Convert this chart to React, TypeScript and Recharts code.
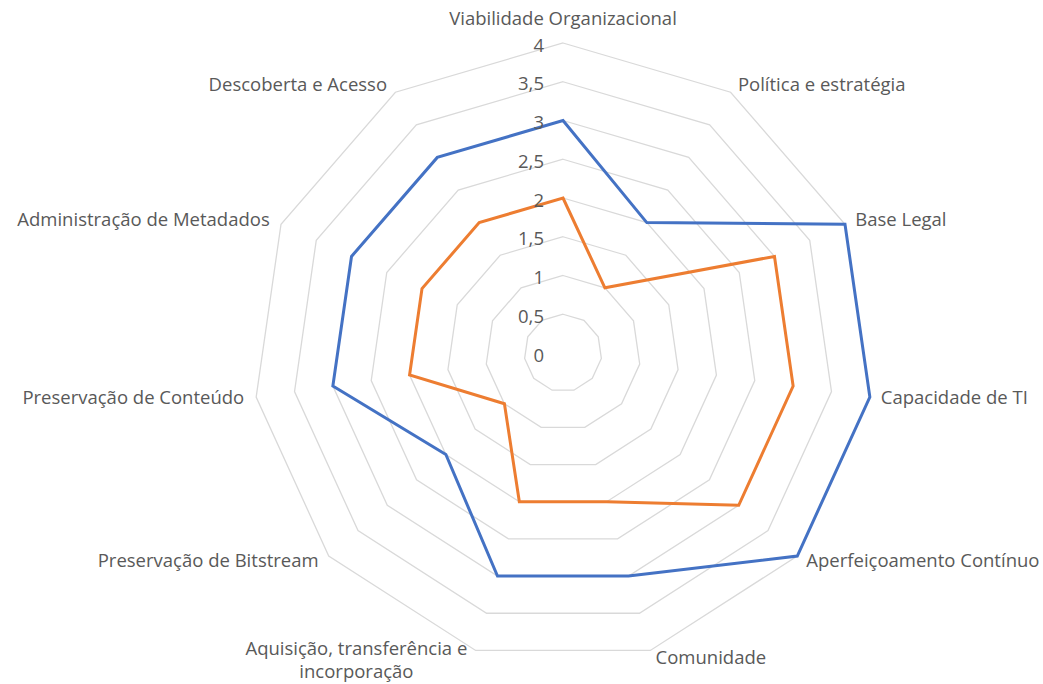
import React from 'react';
import { RadarChart, Radar, PolarGrid, PolarAngleAxis, PolarRadiusAxis } from 'recharts';

const categories = [
  'Viabilidade Organizacional',
  'Política e estratégia',
  'Base Legal',
  'Capacidade de TI',
  'Aperfeiçoamento Contínuo',
  'Comunidade',
  'Aquisição, transferência e\nincorporação',
  'Preservação de Bitstream',
  'Preservação de Conteúdo',
  'Administração de Metadados',
  'Descoberta e Acesso',
];
const serieAzul = [3, 2, 4, 4, 4, 3, 3, 2, 3, 3, 3];
const serieLaranja = [2, 1, 3, 3, 3, 2, 2, 1, 2, 2, 2];
const radiusTicks = [0, 0.5, 1, 1.5, 2, 2.5, 3, 3.5, 4];

const data = categories.map((c, i) => ({ name: c, azul: serieAzul[i], laranja: serieLaranja[i] }));

const FONT = '"Open Sans", "Noto Sans", sans-serif';
const TEXT = '#595959';
const FS = 18.5;

const AngleTick = (props: any) => {
  const { x, y, payload, textAnchor } = props;
  const lines = String(payload.value).split('\n');
  if (lines.length > 1) {
    return (
      <text x={x - 117} y={y} textAnchor="middle" fill={TEXT} fontSize={FS} fontFamily={FONT}>
        {lines.map((l, i) => (
          <tspan key={i} x={x - 117} y={y - 11 + i * 23} dominantBaseline="central">{l}</tspan>
        ))}
      </text>
    );
  }
  const dy = textAnchor === 'middle' ? -18 : -2;
  return (
    <text x={x + (textAnchor === 'start' ? 3 : textAnchor === 'end' ? -4 : 0)} y={y + dy}
      textAnchor={textAnchor} dominantBaseline="central" fill={TEXT} fontSize={FS} fontFamily={FONT}>
      {payload.value}
    </text>
  );
};

const RadiusTick = (props: any) => {
  const { x, y, payload } = props;
  return (
    <text x={x - 19} y={y + 1} textAnchor="end" dominantBaseline="central" fill={TEXT} fontSize={FS} fontFamily={FONT}>
      {String(payload.value).replace('.', ',')}
    </text>
  );
};

export default function App() {
  return (
    <div style={{ position: 'absolute', left: 0, top: 0, width: 1043, height: 684, background: '#fff' }}>
      <RadarChart width={1043} height={684} data={data} cx={563} cy={353} outerRadius={310}
        margin={{ top: 0, right: 0, bottom: 0, left: 0 }}>
        <PolarGrid radialLines={false} stroke="#d9d9d9" strokeWidth={1.3} />
        <PolarAngleAxis dataKey="name" tick={<AngleTick />} tickLine={false} axisLine={false} />
        <PolarRadiusAxis angle={90} domain={[0, 4]} ticks={radiusTicks} tickCount={9} type="number"
          axisLine={false} tickLine={false} tick={<RadiusTick />} />
        <Radar dataKey="azul" stroke="#4472C4" strokeWidth={3} fill="none" fillOpacity={0}
          dot={false} isAnimationActive={false} />
        <Radar dataKey="laranja" stroke="#ED7D31" strokeWidth={3} fill="none" fillOpacity={0}
          dot={false} isAnimationActive={false} />
      </RadarChart>
    </div>
  );
}
